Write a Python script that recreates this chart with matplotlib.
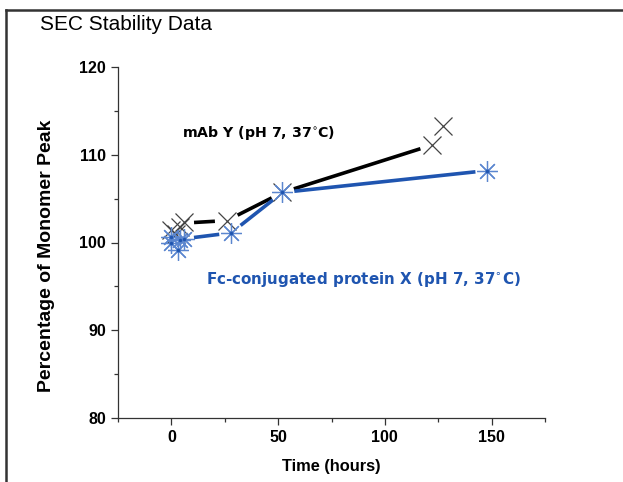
import numpy as np
import matplotlib
matplotlib.use("Agg")
import matplotlib.pyplot as plt
from matplotlib.lines import Line2D
from matplotlib.ticker import MultipleLocator

# --- data ---
mab_t = [0, 2, 4, 6, 26, 52, 122, 127]
mab_v = [101.4, 101.0, 101.8, 102.3, 102.5, 105.7, 111.1, 113.3]
mab_line_t = [5, 26, 52, 122]
mab_line_v = [102.2, 102.5, 105.7, 111.1]

fc_t = [0, 0, 3, 4, 6, 28, 52, 148]
fc_v = [100.0, 100.6, 99.2, 100.3, 100.4, 101.1, 105.7, 108.2]
fc_line_t = [5, 28, 52, 148]
fc_line_v = [100.4, 101.1, 105.7, 108.2]

x_ticks = [0, 50, 100, 150]
y_ticks = [80, 90, 100, 110, 120]

plt.rcParams['font.family'] = ['Liberation Sans', 'DejaVu Sans']

fig = plt.figure(figsize=(6.23, 4.82), dpi=100)
ax = fig.add_axes([118/623, 1-418/482, (545-118)/623, (418-67)/482])
ax.set_xlim(-25, 175)
ax.set_ylim(80, 120)

BLUE = '#1f55b0'
STAR = '#5b86cf'

fig.canvas.draw()

def gapped(ts, vs, gap_px, **kw):
    pts = ax.transData.transform(np.column_stack([ts, vs]))
    inv = ax.transData.inverted()
    for a, b in zip(pts[:-1], pts[1:]):
        d = b - a
        L = np.hypot(*d)
        u = d / L
        p0 = inv.transform(a + u * gap_px)
        p1 = inv.transform(b - u * gap_px)
        ax.plot([p0[0], p1[0]], [p0[1], p1[1]], solid_capstyle='butt', **kw)

gapped(mab_line_t, mab_line_v, 12, color='black', lw=2.6, zorder=2)
gapped(fc_line_t, fc_line_v, 12, color=BLUE, lw=2.6, zorder=2)

ax.plot(mab_t, mab_v, linestyle='none', marker='x', markersize=13,
        markeredgewidth=0.9, color='#444444', zorder=3)
ax.plot(fc_t, fc_v, linestyle='none', marker=(8, 2, 0), markersize=15,
        markeredgewidth=0.9, color=STAR, zorder=4)
ax.plot(fc_t, fc_v, linestyle='none', marker='o', markersize=2.5,
        color=BLUE, markeredgewidth=0, zorder=5)

ax.text(5, 112.5, "mAb Y (pH 7, 37$^{\\circ}$C)", fontsize=10.2, fontweight='bold',
        color='black', ha='left', va='center', family='DejaVu Sans')
ax.text(16, 95.8, "Fc-conjugated protein X (pH 7, 37$^{\\circ}$C)", fontsize=10.9,
        fontweight='bold', color=BLUE, ha='left', va='center', family='DejaVu Sans')

for s in ['top', 'right']:
    ax.spines[s].set_visible(False)
for s in ['left', 'bottom']:
    ax.spines[s].set_color('#333333')
    ax.spines[s].set_linewidth(0.9)

ax.set_xticks(x_ticks)
ax.set_yticks(y_ticks)
ax.xaxis.set_minor_locator(MultipleLocator(25))
ax.yaxis.set_minor_locator(MultipleLocator(5))
ax.tick_params(which='major', direction='out', length=5, width=0.9, color='#333333',
               labelsize=11.5, pad=3.5)
ax.tick_params(which='minor', direction='out', length=3, width=0.9, color='#333333')
for lab in ax.get_xticklabels() + ax.get_yticklabels():
    lab.set_fontweight('bold')

ax.set_xlabel("Time (hours)", fontsize=11.8, fontweight='bold')
ax.set_ylabel("Percentage of Monomer Peak", fontsize=14, fontweight='bold')
ax.xaxis.set_label_coords(0.5, -49/351, transform=ax.transAxes)
ax.yaxis.set_label_coords((47-118)/427, 0.5 - 13/351, transform=ax.transAxes)
ax.xaxis.label.set_va('center')
ax.yaxis.label.set_va('center')

fig.text(40/623, 1-25/482, "SEC Stability Data", fontsize=15, ha='left', va='center')

# outer frame (left and top edges)
fig.add_artist(Line2D([6/623, 6/623], [0, 1-10/482], transform=fig.transFigure,
                      color='#333333', lw=1.8))
fig.add_artist(Line2D([6/623, 1], [1-10/482, 1-10/482], transform=fig.transFigure,
                      color='#333333', lw=1.8))

fig.savefig("out.png", dpi=100)
